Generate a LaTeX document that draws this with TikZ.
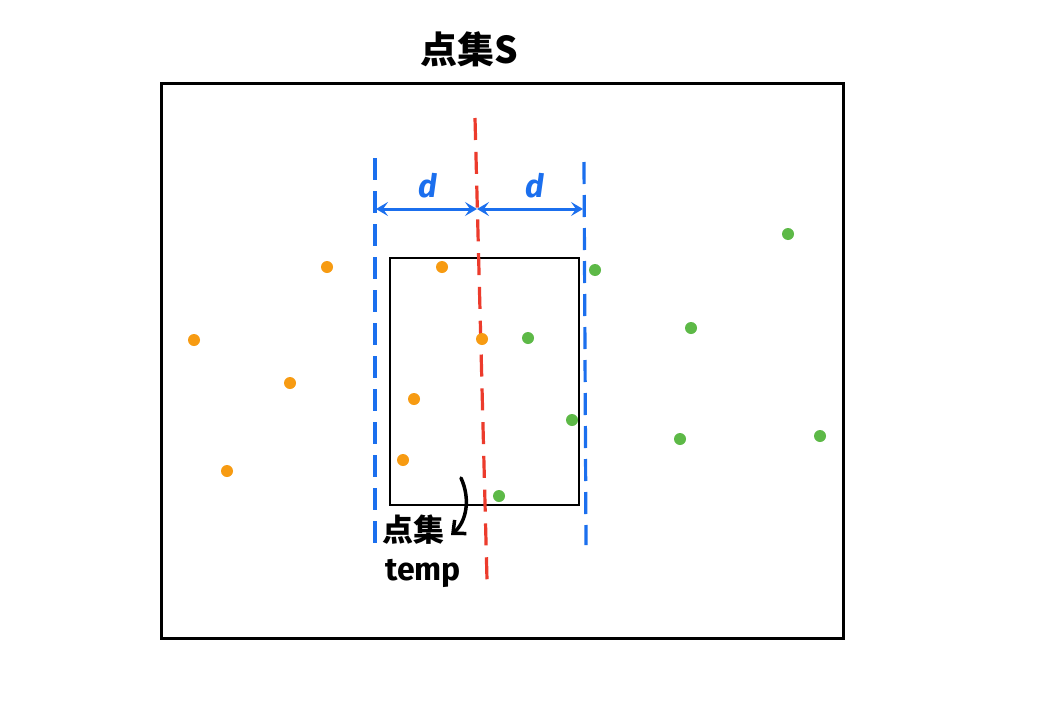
\documentclass[tikz,border=0pt]{standalone}
\usepackage{fontspec}
\newfontfamily\cjk{Noto Sans CJK SC}
\newfontfamily\hand{Fira Sans}
\usetikzlibrary{arrows.meta}
\definecolor{ptorange}{HTML}{F79B12}
\definecolor{ptgreen}{HTML}{5DB947}
\definecolor{lineblue}{HTML}{1B6FEE}
\definecolor{linered}{HTML}{EC3B2C}
\tikzset{
  orangept/.style={circle,fill=ptorange,inner sep=0pt,minimum size=12pt},
  greenpt/.style={circle,fill=ptgreen,inner sep=0pt,minimum size=12pt},
  bluedash/.style={draw=lineblue,line width=3.2pt,dash pattern=on 22pt off 11pt},
  reddash/.style={draw=linered,line width=3.2pt,dash pattern=on 22pt off 11.8pt},
  dimarrow/.style={draw=lineblue,line width=3pt,{Stealth[length=12pt,width=14pt,inset=5pt]}-{Stealth[length=12pt,width=14pt,inset=5pt]}},
  dlabel/.style={text=lineblue,font=\hand\itshape\bfseries\fontsize{32}{32}\selectfont,inner sep=0pt},
  handtext/.style={text=black,inner sep=0pt}
}
\begin{document}
\begin{tikzpicture}[x=1pt,y=-1pt]
\path[use as bounding box,fill=white] (0,0) rectangle (1054,704);
% outer set S
\node[draw=black,line width=3pt,minimum width=682pt,minimum height=555pt,inner sep=0pt,anchor=north west] (setS) at (160,82) {};
\node[handtext,font=\cjk\bfseries\fontsize{37}{37}\selectfont] (title) at (469,49) {点集S};
% inner temp box
\node[draw=black,line width=2pt,minimum width=189pt,minimum height=247pt,inner sep=0pt,anchor=north west] (temp) at (389,257) {};
% dashed lines
\coordinate (lt) at (375,158); \coordinate (lb) at (375,543);
\coordinate (rt) at (584,162); \coordinate (rb) at (586,545);
\coordinate (mt) at (475,118); \coordinate (mb) at (487,580);
\draw[bluedash] (lt) -- (lb);
\draw[bluedash] (rt) -- (rb);
\draw[reddash] (mt) -- (mb);
% dimension arrows
\coordinate (al) at (376,209); \coordinate (am) at (477,209); \coordinate (ar) at (583,209);
\draw[dimarrow] (al) -- (am);
\draw[dimarrow] (am) -- (ar);
\node[dlabel] (d1) at (428,186) {d};
\node[dlabel] (d2) at (535,186) {d};
% orange points
\node[orangept] (o1) at (327,267) {};
\node[orangept] (o2) at (442,267) {};
\node[orangept] (o3) at (194,340) {};
\node[orangept] (o4) at (482,339) {};
\node[orangept] (o5) at (290,383) {};
\node[orangept] (o6) at (414,399) {};
\node[orangept] (o7) at (403,460) {};
\node[orangept] (o8) at (227,471) {};
% green points
\node[greenpt] (g1) at (788,234) {};
\node[greenpt] (g2) at (595,270) {};
\node[greenpt] (g3) at (691,328) {};
\node[greenpt] (g4) at (528,338) {};
\node[greenpt] (g5) at (572,420) {};
\node[greenpt] (g6) at (680,439) {};
\node[greenpt] (g7) at (820,436) {};
\node[greenpt] (g8) at (499,496) {};
% temp label
\node[handtext,font=\cjk\bfseries\fontsize{31}{31}\selectfont] (lab1) at (413,530) {点集};
\node[handtext,font=\hand\bfseries\fontsize{32}{32}\selectfont] (lab2) at (423,573) {temp};
\coordinate (cs) at (461,478);
\coordinate (ce) at (451,535);
\draw[line width=3.5pt,line cap=round,-{Straight Barb[length=10pt,width=18pt,line width=3.5pt]}] (cs) .. controls (471,500) and (466,522) .. (ce);
\end{tikzpicture}
\end{document}
